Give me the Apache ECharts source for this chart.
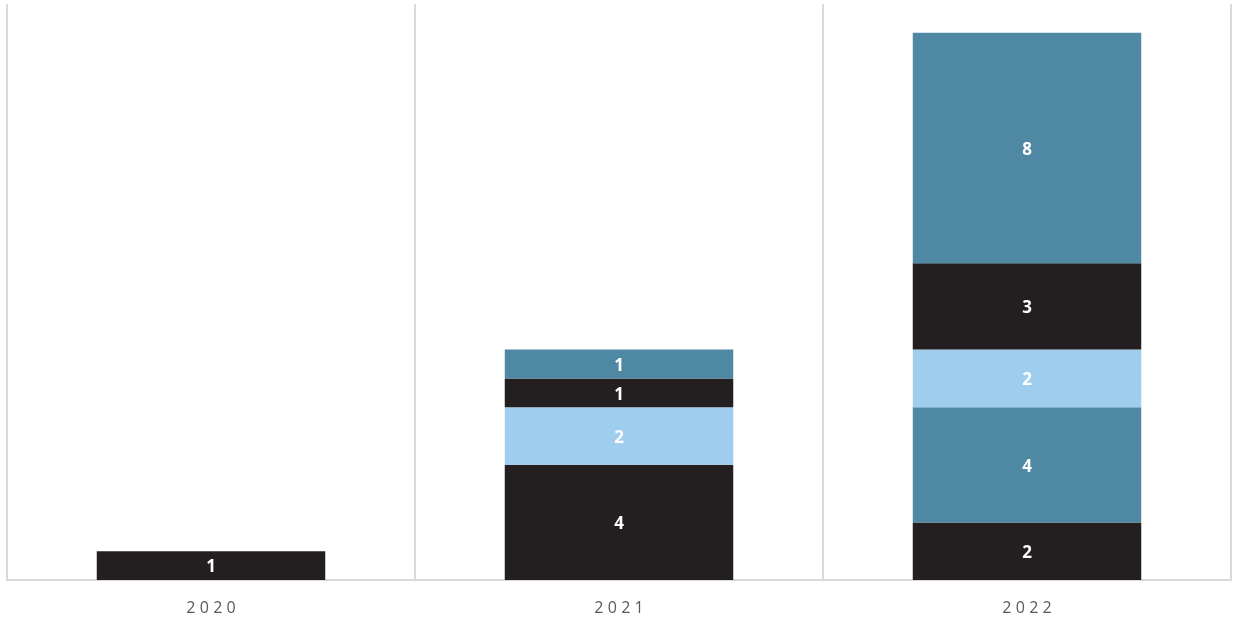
<!DOCTYPE html>
<html>
<head>
<meta charset="utf-8">
<script src="https://cdn.jsdelivr.net/npm/echarts@6/dist/echarts.min.js"></script>
<style>html,body{margin:0;padding:0;background:#fff}#c{width:1236px;height:623px}</style>
</head>
<body>
<div id="c"></div>
<script>
const categories = ['2020', '2021', '2022'];
const seriesA = [1, 4, 2];      // black (bottom)
const seriesB = [0, 0, 4];      // steel blue
const seriesC = [0, 2, 2];      // light blue
const seriesD = [0, 1, 3];      // black
const seriesE = [0, 1, 8];      // steel blue (top)
const seriesColors = ['#231f20', '#4f88a3', '#9fcdee', '#231f20', '#4f88a3'];
const seriesData = [seriesA, seriesB, seriesC, seriesD, seriesE];

const chart = echarts.init(document.getElementById('c'), null, {renderer: 'canvas'});
chart.setOption({
  animation: false,
  grid: {left: 7, right: 5, top: 4, bottom: 43, containLabel: false},
  xAxis: {
    type: 'category',
    data: categories,
    axisLine: {show: true, lineStyle: {color: '#d9d9d9', width: 2}},
    axisTick: {show: false},
    splitLine: {show: true, interval: 0, lineStyle: {color: '#d9d9d9', width: 2}},
    axisLabel: {
      color: '#595959', fontSize: 16, margin: 20,
      fontFamily: 'Open Sans',
      formatter: v => v.split('').join('\u2009\u200a')
    }
  },
  yAxis: {type: 'value', min: 0, max: 20, show: false, splitLine: {show: false}},
  series: seriesData.map((d, i) => ({
    type: 'bar',
    stack: 'total',
    barWidth: '56%',
    data: d.map(v => v === 0 ? null : v),
    itemStyle: {color: seriesColors[i]},
    label: {show: true, position: 'inside', offset: [0, 2], color: '#fff', fontWeight: 'bold', fontSize: 17, fontFamily: 'Open Sans'}
  }))
});
</script>
</body>
</html>
